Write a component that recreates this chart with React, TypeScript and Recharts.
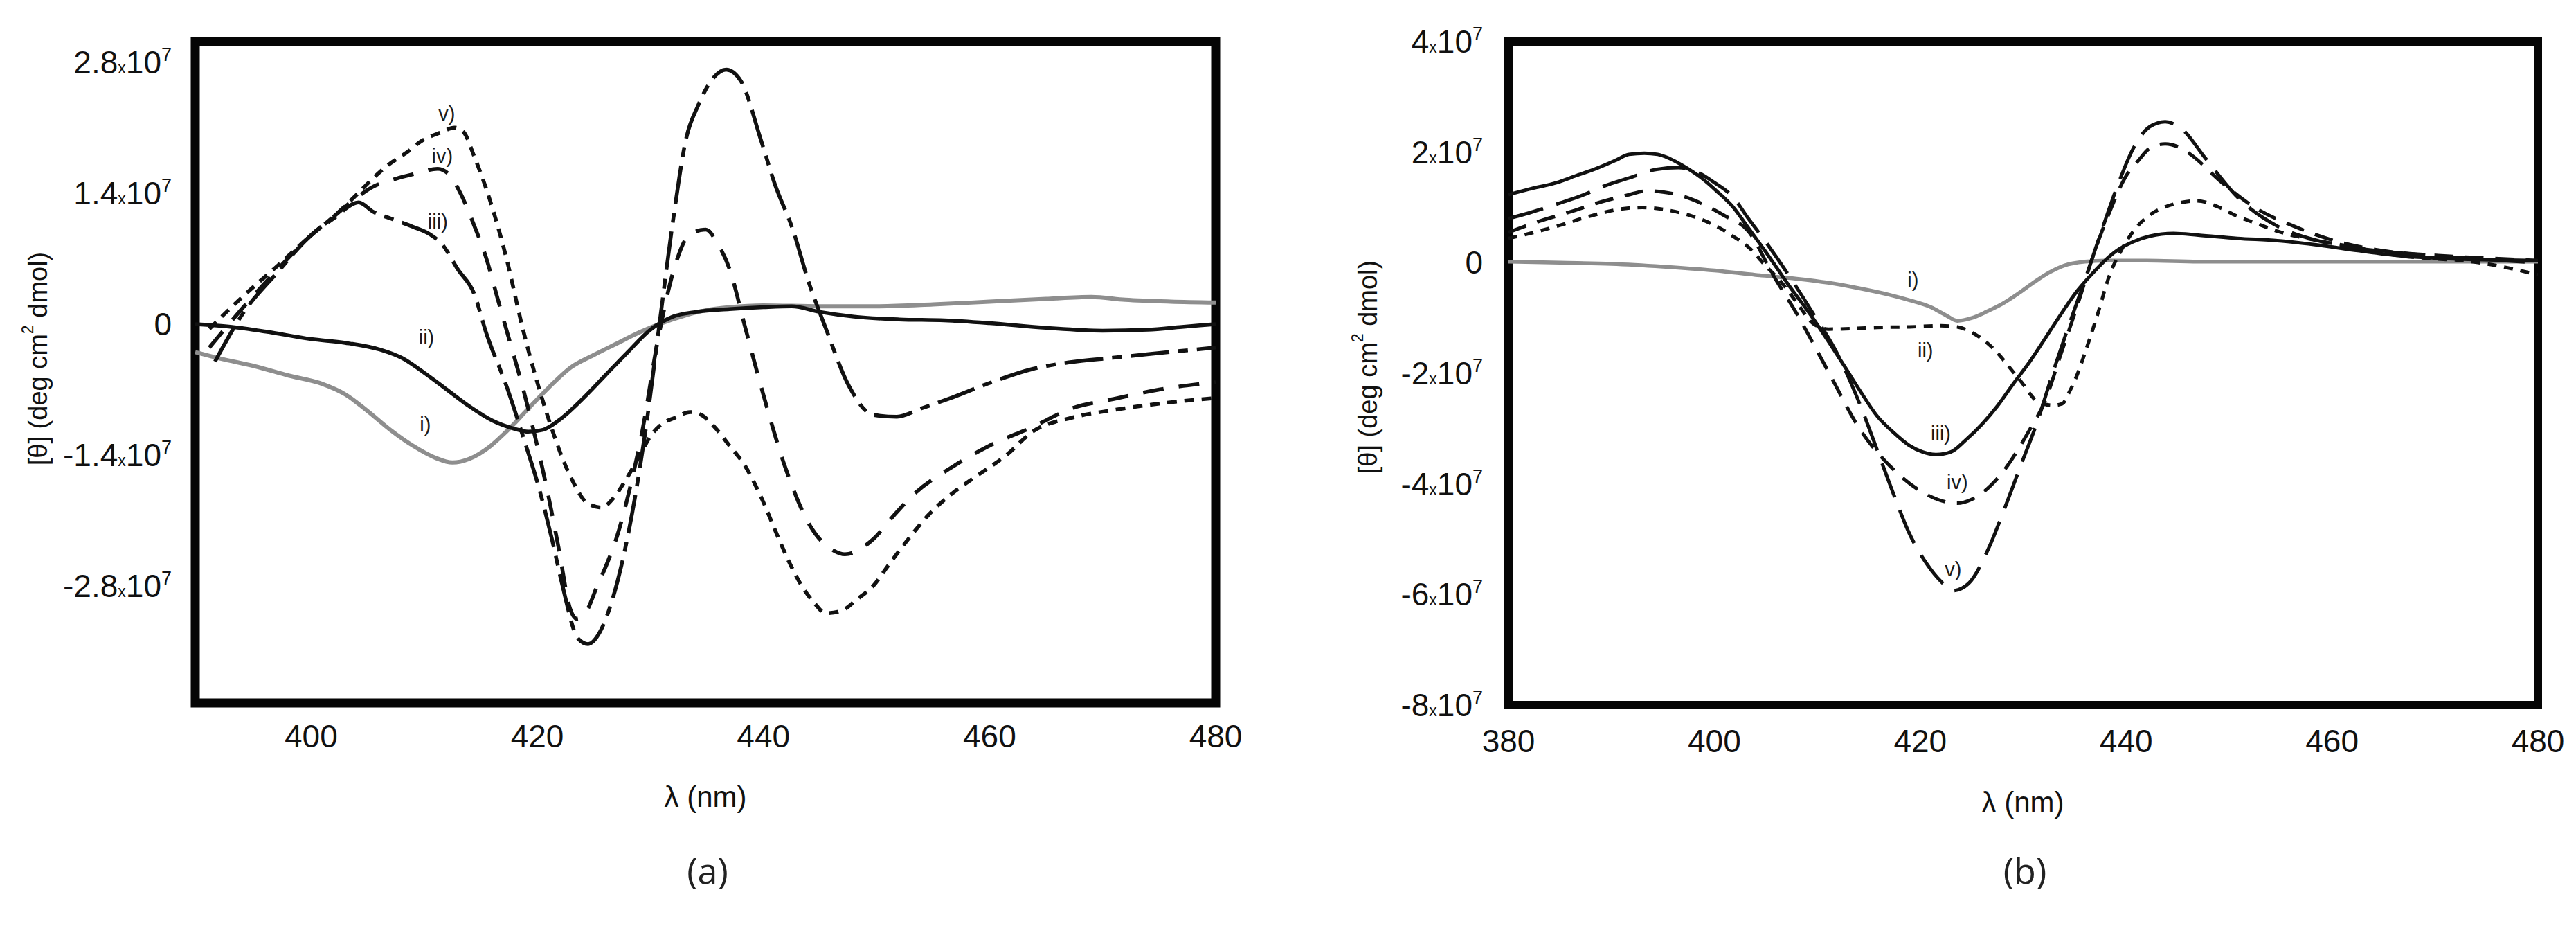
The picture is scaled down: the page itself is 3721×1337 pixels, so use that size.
import React from 'react';
import { LineChart, Line, XAxis, YAxis, ReferenceArea, ReferenceDot } from 'recharts';

const FONT = "'Liberation Sans', Arial, Helvetica, sans-serif";
const TICK_FONT = "'Liberation Sans Narrow', 'Liberation Sans', Arial, sans-serif";
const INK = '#111111';
const GREY = '#8e8e8e';

// ---------- Panel (a) : wavelength (nm) and [theta] in units of 10^7 ----------
const A_X_TICKS = [400, 420, 440, 460, 480];
const A_Y_TICKS = [-2.8, -1.4, 0, 1.4, 2.8];

const A_I_NM = [389.75, 392, 395, 398, 401, 403, 405, 407, 409, 411, 412.5, 414, 415.8, 417, 418, 419, 421, 423, 425, 427, 429, 431, 433, 435, 437, 440, 445, 450, 455, 460, 465, 469, 472, 476, 480];
const A_I_VAL = [-0.30, -0.37, -0.45, -0.55, -0.64, -0.75, -0.93, -1.13, -1.30, -1.43, -1.48, -1.44, -1.31, -1.18, -1.06, -0.93, -0.68, -0.46, -0.33, -0.21, -0.09, 0.01, 0.09, 0.15, 0.18, 0.20, 0.19, 0.19, 0.21, 0.24, 0.27, 0.29, 0.26, 0.24, 0.23];

const A_II_NM = [389.75, 393, 396, 400, 403, 406, 408, 410, 412, 414, 416, 418, 419.2, 420.5, 422, 424, 426, 428, 430, 432, 434, 437, 440, 442.5, 445, 448, 452, 456, 460, 465, 470, 474, 477, 480];
const A_II_VAL = [0, -0.03, -0.08, -0.16, -0.2, -0.27, -0.36, -0.52, -0.7, -0.88, -1.03, -1.12, -1.15, -1.13, -1.02, -0.8, -0.55, -0.3, -0.06, 0.08, 0.13, 0.16, 0.18, 0.19, 0.13, 0.08, 0.05, 0.04, 0.01, -0.04, -0.07, -0.06, -0.03, 0.0];

const A_III_NM = [391.5, 394, 397, 400, 402, 404.2, 405.5, 407, 409, 410.5, 411.6, 413, 414.4, 415.5, 417.3, 419, 420.1, 421.3, 422.2, 423.6, 424.5, 425.5, 426.5, 427.5, 428.5, 429.5, 430.7, 432, 433.2, 434.2, 435.5, 436.7, 438, 439.8, 441, 442.6, 444, 445.5, 447.6, 449.7, 451.8, 454, 456.8, 460, 463.8, 467, 470.9, 475, 480];
const A_III_VAL = [-0.4, 0.12, 0.55, 0.95, 1.13, 1.3, 1.2, 1.13, 1.04, 0.96, 0.85, 0.58, 0.33, -0.1, -0.67, -1.3, -1.73, -2.3, -2.78, -3.36, -3.42, -3.3, -3.0, -2.55, -1.95, -1.2, -0.1, 1.1, 2.0, 2.33, 2.62, 2.72, 2.6, 1.96, 1.5, 1.01, 0.45, -0.04, -0.67, -0.97, -0.99, -0.9, -0.78, -0.63, -0.48, -0.41, -0.36, -0.31, -0.25];

const A_IV_NM = [391, 394, 397, 400, 402, 404, 405.5, 407.4, 409.3, 411.2, 412.2, 413.2, 414.4, 415.5, 416.5, 417.6, 418.7, 419.8, 420.8, 421.9, 422.9, 423.5, 424.3, 425.3, 426.2, 427.1, 428.2, 429.2, 430.7, 432.1, 433.5, 434.9, 436, 437, 438.4, 439.8, 441.9, 444.1, 446.2, 447.2, 449.7, 451.5, 453.2, 456.8, 460, 463.8, 467.3, 471, 475, 480];
const A_IV_VAL = [-0.25, 0.18, 0.58, 0.95, 1.15, 1.35, 1.47, 1.55, 1.61, 1.66, 1.6, 1.4, 1.06, 0.7, 0.27, -0.2, -0.67, -1.2, -1.73, -2.4, -3.04, -3.15, -3.08, -2.8, -2.55, -2.25, -1.75, -1.2, -0.15, 0.59, 0.96, 1.01, 0.85, 0.59, -0.04, -0.67, -1.52, -2.15, -2.42, -2.46, -2.3, -2.05, -1.83, -1.52, -1.3, -1.1, -0.9, -0.8, -0.7, -0.62];

const A_V_NM = [391, 394, 397, 400, 402, 404, 405.4, 406.8, 408.4, 409.8, 411.5, 412.7, 413.5, 414.4, 415.8, 417.3, 418.7, 420.8, 422.9, 424.5, 425.7, 426.8, 427.8, 429, 430, 431, 432.2, 433.5, 434.5, 435.6, 437, 438.4, 439.8, 441.2, 442.3, 443.3, 444.5, 445.5, 446.8, 448.3, 449.7, 451.1, 452.8, 454.6, 456.8, 458.9, 461.5, 463.8, 467.3, 470.9, 475, 480];
const A_V_VAL = [-0.05, 0.3, 0.62, 0.95, 1.15, 1.38, 1.55, 1.7, 1.83, 1.96, 2.05, 2.1, 2.05, 1.8, 1.33, 0.69, -0.04, -0.94, -1.62, -1.92, -1.96, -1.85, -1.67, -1.42, -1.2, -1.07, -1.0, -0.94, -0.97, -1.09, -1.3, -1.52, -1.85, -2.25, -2.55, -2.78, -2.98, -3.09, -3.07, -2.94, -2.8, -2.57, -2.3, -2.04, -1.8, -1.62, -1.4, -1.15, -1.0, -0.92, -0.85, -0.79];

const A_LABEL_NAMES = ['i)', 'ii)', 'iii)', 'iv)', 'v)'];
const A_LABEL_NM = [410.1, 410.2, 411.2, 411.6, 412.0];
const A_LABEL_VAL = [-1.07, -0.14, 1.1, 1.8, 2.25];

// ---------- Panel (b) ----------
const B_X_TICKS = [380, 400, 420, 440, 460, 480];
const B_Y_TICKS = [-8, -6, -4, -2, 0, 2, 4];

const B_I_NM = [380, 385, 390, 395, 400, 404, 408, 411, 414, 417, 419, 421, 422.5, 423.6, 425, 426.5, 428, 429.5, 431, 432.5, 434, 436, 438, 442, 447, 455, 465, 480];
const B_I_VAL = [0.02, 0.0, -0.02, -0.07, -0.14, -0.22, -0.29, -0.36, -0.46, -0.58, -0.68, -0.8, -0.95, -1.05, -1.0, -0.88, -0.74, -0.56, -0.36, -0.18, -0.05, 0.02, 0.04, 0.04, 0.02, 0.02, 0.02, 0.02];

const B_II_NM = [380, 382.5, 384.7, 387.5, 390.9, 393, 395.5, 397.9, 400, 401.8, 403.5, 404.9, 406.5, 408, 409.6, 411.1, 413.5, 415.8, 419, 422, 423.6, 425.1, 426.5, 427.5, 428.7, 429.8, 431.4, 432.9, 433.8, 434.5, 435.3, 436, 437.2, 438.4, 439.6, 440.7, 442.2, 443.8, 445.4, 446.9, 448.8, 450.8, 452.8, 454.7, 458.6, 462.5, 466.4, 470, 472.6, 475, 478, 480];
const B_II_VAL = [0.44, 0.55, 0.66, 0.82, 0.97, 1.0, 0.95, 0.84, 0.68, 0.48, 0.25, -0.04, -0.35, -0.72, -1.1, -1.2, -1.19, -1.17, -1.16, -1.14, -1.16, -1.27, -1.45, -1.63, -1.9, -2.15, -2.51, -2.58, -2.55, -2.33, -2.0, -1.63, -0.95, -0.22, 0.25, 0.57, 0.85, 1.01, 1.09, 1.12, 1.02, 0.84, 0.7, 0.57, 0.4, 0.27, 0.13, 0.07, 0.04, -0.02, -0.13, -0.22];

const B_III_NM = [380, 382, 384.7, 386.5, 388.6, 390.5, 391.7, 393.2, 394.5, 395.6, 397, 398.7, 400.2, 401.8, 403.3, 404.9, 407.2, 409.6, 411, 412.7, 414.2, 415.8, 417.4, 418.9, 420.2, 421.6, 423, 424.4, 426, 427.5, 429, 430.6, 432.2, 433.7, 435.2, 436.8, 438, 439.1, 440.7, 442.3, 444.6, 447, 450.8, 454.7, 458.6, 462.5, 466.4, 471.8, 476, 480];
const B_III_VAL = [1.23, 1.33, 1.45, 1.57, 1.71, 1.86, 1.96, 1.98, 1.96, 1.89, 1.75, 1.54, 1.3, 1.01, 0.63, 0.22, -0.4, -1.01, -1.4, -1.89, -2.33, -2.77, -3.07, -3.3, -3.42, -3.47, -3.42, -3.21, -2.92, -2.59, -2.2, -1.8, -1.35, -0.92, -0.52, -0.18, 0.05, 0.22, 0.38, 0.48, 0.53, 0.5, 0.44, 0.4, 0.32, 0.22, 0.13, 0.07, 0.05, 0.04];

const B_IV_NM = [380, 383, 386, 389, 391.5, 393.5, 395, 397, 399, 401, 403.3, 405.7, 408, 411.1, 414.2, 417.4, 420.5, 422, 423.6, 425, 425.9, 428.2, 430.6, 432.1, 433.7, 435.3, 436.8, 438.4, 439.9, 441.2, 442.3, 443.8, 445, 446.1, 449.3, 452.4, 456.3, 460.2, 464.8, 470.3, 474.2, 480];
const B_IV_VAL = [0.55, 0.75, 0.92, 1.1, 1.22, 1.3, 1.28, 1.2, 1.05, 0.85, 0.57, -0.22, -0.92, -1.98, -3.03, -3.74, -4.18, -4.3, -4.35, -4.28, -4.18, -3.74, -3.03, -2.51, -1.63, -0.75, 0.13, 0.92, 1.54, 1.85, 2.07, 2.15, 2.1, 1.98, 1.45, 1.01, 0.66, 0.4, 0.22, 0.13, 0.09, 0.04];

const B_V_NM = [380, 382, 385, 387.2, 389.2, 392, 394.4, 396.5, 398.2, 400, 401.8, 403.3, 404.9, 407.2, 409.6, 411.9, 414.2, 415.8, 417.4, 418.9, 420.5, 422, 423.2, 424.7, 426.7, 428.2, 429.8, 431.4, 432.9, 434.5, 436, 437.6, 439.1, 440.7, 442.3, 443.8, 445.4, 447.7, 450.8, 454.7, 458.6, 462.5, 466.4, 472.6, 480];
const B_V_VAL = [0.8, 0.9, 1.08, 1.22, 1.38, 1.55, 1.69, 1.72, 1.65, 1.45, 1.19, 0.8, 0.4, -0.22, -0.92, -1.63, -2.59, -3.38, -4.18, -4.88, -5.41, -5.76, -5.93, -5.8, -5.14, -4.44, -3.65, -2.86, -1.98, -1.1, -0.31, 0.57, 1.36, 2.07, 2.46, 2.55, 2.42, 1.89, 1.19, 0.66, 0.4, 0.26, 0.18, 0.09, 0.0];

const B_LABEL_NAMES = ['i)', 'ii)', 'iii)', 'iv)', 'v)'];
const B_LABEL_NM = [419.3, 420.5, 422.0, 423.6, 423.2];
const B_LABEL_VAL = [-0.31, -1.58, -3.08, -3.96, -5.54];

const zip = (nm: number[], val: number[]) => nm.map((x, i) => ({ x, y: val[i] }));

const XTick = (props: any) => {
  const { x, y, payload, dy } = props;
  return (
    <text x={x} y={y + dy} textAnchor="middle" fontFamily={TICK_FONT} fontSize={46} fill={INK}>
      {payload.value}
    </text>
  );
};

const YTick = (props: any) => {
  const { x, y, payload, dx, fmt } = props;
  const v = payload.value as number;
  return (
    <text x={x - dx} y={y + 16} textAnchor="end" fontFamily={TICK_FONT} fontSize={46} fill={INK}>
      {v === 0 ? (
        '0'
      ) : (
        <>
          {fmt(v)}
          <tspan fontSize={23}>x</tspan>
          10
          <tspan fontSize={27} dy={-18}>7</tspan>
        </>
      )}
    </text>
  );
};

type SeriesDef = { key: string; data: { x: number; y: number }[]; color: string; width: number; dash?: string };

type PanelProps = {
  left: number;
  width: number;
  margin: { top: number; right: number; bottom: number; left: number };
  yAxisWidth: number;
  xDomain: [number, number];
  yDomain: [number, number];
  xTicks: number[];
  yTicks: number[];
  xTickDy: number;
  yTickDx: number;
  fmt: (v: number) => string;
  frame: number;
  series: SeriesDef[];
  labelNames: string[];
  labelNm: number[];
  labelVal: number[];
};

const Panel = (p: PanelProps) => (
  <div style={{ position: 'absolute', left: p.left, top: 0 }}>
    <LineChart width={p.width} height={1337} margin={p.margin}>
      <XAxis
        type="number"
        dataKey="x"
        domain={p.xDomain}
        ticks={p.xTicks}
        interval={0}
        allowDataOverflow
        axisLine={false}
        tickLine={false}
        tickSize={0}
        tickMargin={0}
        height={300}
        tick={(tp: any) => <XTick {...tp} dy={p.xTickDy} />}
      />
      <YAxis
        type="number"
        domain={p.yDomain}
        ticks={p.yTicks}
        interval={0}
        allowDataOverflow
        axisLine={false}
        tickLine={false}
        tickSize={0}
        tickMargin={0}
        width={p.yAxisWidth}
        tick={(tp: any) => <YTick {...tp} dx={p.yTickDx} fmt={p.fmt} />}
      />
      {p.series.map((s) => (
        <Line
          key={s.key}
          data={s.data}
          dataKey="y"
          type="monotone"
          stroke={s.color}
          strokeWidth={s.width}
          strokeDasharray={s.dash}
          strokeLinecap="butt"
          dot={false}
          activeDot={false}
          isAnimationActive={false}
        />
      ))}
      <ReferenceArea
        x1={p.xDomain[0]}
        x2={p.xDomain[1]}
        y1={p.yDomain[0]}
        y2={p.yDomain[1]}
        fill="none"
        fillOpacity={0}
        stroke="#050505"
        strokeWidth={p.frame}
        ifOverflow="visible"
      />
      {p.labelNames.map((name, i) => (
        <ReferenceDot
          key={name}
          x={p.labelNm[i]}
          y={p.labelVal[i]}
          r={1}
          fill="none"
          stroke="none"
          ifOverflow="visible"
          label={{ value: name, position: 'center', fontSize: 29, fill: '#1a1a1a', fontFamily: TICK_FONT }}
        />
      ))}
    </LineChart>
  </div>
);

const SUP = (t: string) => (
  <tspan fontSize={23} dy={-15}>
    {t}
  </tspan>
);

const YTitle = ({ cx, cy }: { cx: number; cy: number }) => (
  <text
    x={cx}
    y={cy}
    transform={`rotate(-90 ${cx} ${cy})`}
    textAnchor="middle"
    dominantBaseline="central"
    fontFamily={FONT}
    fontSize={38}
    fill={INK}
  >
    [θ] (deg cm{SUP('2')}
    <tspan dy={15}> dmol)</tspan>
  </text>
);

export default function App() {
  const seriesA: SeriesDef[] = [
    { key: 'i', data: zip(A_I_NM, A_I_VAL), color: GREY, width: 6 },
    { key: 'ii', data: zip(A_II_NM, A_II_VAL), color: INK, width: 5.5 },
    { key: 'iii', data: zip(A_III_NM, A_III_VAL), color: INK, width: 5.5, dash: '56 13 14 13' },
    { key: 'iv', data: zip(A_IV_NM, A_IV_VAL), color: INK, width: 5.5, dash: '30 22' },
    { key: 'v', data: zip(A_V_NM, A_V_VAL), color: INK, width: 5.5, dash: '14 11' },
  ];
  const seriesB: SeriesDef[] = [
    { key: 'i', data: zip(B_I_NM, B_I_VAL), color: GREY, width: 5.5 },
    { key: 'ii', data: zip(B_II_NM, B_II_VAL), color: INK, width: 5, dash: '13 11' },
    { key: 'iii', data: zip(B_III_NM, B_III_VAL), color: INK, width: 5 },
    { key: 'iv', data: zip(B_IV_NM, B_IV_VAL), color: INK, width: 5, dash: '27 17' },
    { key: 'v', data: zip(B_V_NM, B_V_VAL), color: INK, width: 5, dash: '52 20' },
  ];

  return (
    <div
      style={{
        position: 'absolute',
        left: 0,
        top: 0,
        width: 3721,
        height: 1337,
        background: '#ffffff',
        overflow: 'hidden',
      }}
    >
      <Panel
        left={0}
        width={1830}
        margin={{ top: 60, right: 74, bottom: 22, left: 0 }}
        yAxisWidth={282}
        xDomain={[389.75, 480]}
        yDomain={[-4.05, 3.02]}
        xTicks={A_X_TICKS}
        yTicks={A_Y_TICKS}
        xTickDy={64}
        yTickDx={34}
        fmt={(v) => v.toFixed(1)}
        frame={13}
        series={seriesA}
        labelNames={A_LABEL_NAMES}
        labelNm={A_LABEL_NM}
        labelVal={A_LABEL_VAL}
      />
      <Panel
        left={1880}
        width={1841}
        margin={{ top: 60, right: 55, bottom: 19, left: 0 }}
        yAxisWidth={299}
        xDomain={[380, 480]}
        yDomain={[-8, 4]}
        xTicks={B_X_TICKS}
        yTicks={B_Y_TICKS}
        xTickDy={68}
        yTickDx={37}
        fmt={(v) => String(v)}
        frame={12}
        series={seriesB}
        labelNames={B_LABEL_NAMES}
        labelNm={B_LABEL_NM}
        labelVal={B_LABEL_VAL}
      />
      <svg
        width={3721}
        height={1337}
        style={{ position: 'absolute', left: 0, top: 0, pointerEvents: 'none' }}
      >
        <YTitle cx={55} cy={518} />
        <YTitle cx={1976} cy={530} />
        <text x={1019} y={1165} textAnchor="middle" fontFamily={TICK_FONT} fontSize={42} fill={INK}>
          λ (nm)
        </text>
        <text x={2922} y={1173} textAnchor="middle" fontFamily={TICK_FONT} fontSize={42} fill={INK}>
          λ (nm)
        </text>
        <text x={1022} y={1276} textAnchor="middle" fontFamily="'Open Sans', 'Noto Sans', sans-serif" fontSize={52} fill="#222">
          (a)
        </text>
        <text x={2925} y={1276} textAnchor="middle" fontFamily="'Open Sans', 'Noto Sans', sans-serif" fontSize={52} fill="#222">
          (b)
        </text>
      </svg>
    </div>
  );
}
